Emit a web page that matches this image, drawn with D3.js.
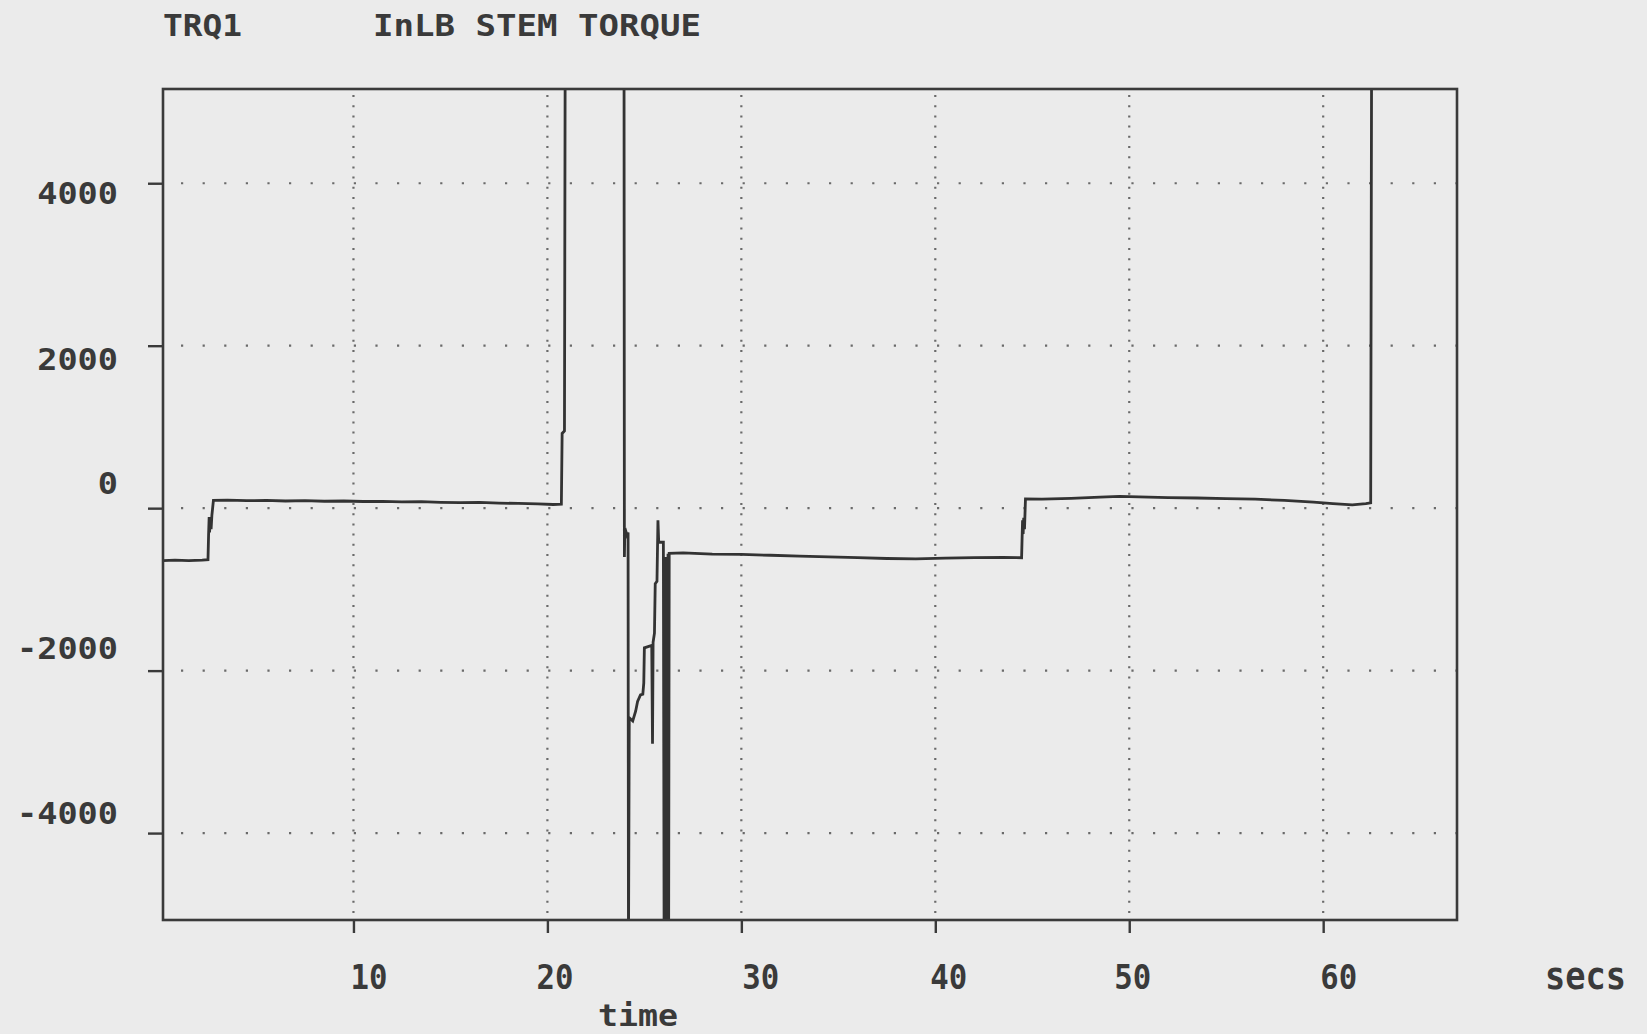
<!DOCTYPE html>
<html><head><meta charset="utf-8">
<script src="https://cdn.jsdelivr.net/npm/d3@7"></script>
<style>
body{margin:0;background:#ebebeb;}
svg{display:block;}
text{font-family:"DejaVu Sans Mono",monospace;font-weight:bold;fill:#3a3a3a;}
</style>
</head><body>
<svg id="chart" width="1647" height="1034"></svg>
<script>
// ---- data ----
const title1 = "TRQ1";
const title2 = "InLB STEM TORQUE";
const xName = "time";
const xUnit = "secs";
const xTicks = [10, 20, 30, 40, 50, 60];
const xTickLabels = ["10", "20", "30", "40", "50", "60"];
const yTicks = [4000, 2000, 0, -2000, -4000];
const yTickLabels = ["4000", "2000", "0", "-2000", "-4000"];
const xDomain = [0.18, 66.9];
const yDomain = [-5070, 5160];
const timeSecs = [
  0.18, 0.8, 1.5, 2.2, 2.5,
  2.53, 2.56, 2.58, 2.62, 2.66, 2.7, 2.78,
  3.5, 4.5, 5.5, 6.5, 7.5, 8.5, 9.5, 10.5, 11.5, 12.5, 13.5, 14.5, 15.5, 16.5, 17.5, 18.5, 19.5, 20.3, 20.72,
  20.76, 20.88, 20.92,
  23.95, 23.97, 23.99, 24.04, 24.1, 24.16,
  24.18, 24.22, 24.4, 24.55, 24.65, 24.8, 24.92, 24.97, 25.0, 25.38, 25.42, 25.45, 25.52, 25.56, 25.65, 25.7, 25.74, 25.98,
  26.02, 26.05, 26.08, 26.1, 26.12, 26.14, 26.16, 26.18, 26.2, 26.22, 26.25, 26.28,
  27, 28.5, 30, 31.5, 33, 34.5, 36, 37.5, 39, 40.5, 42, 43.5, 44.45,
  44.5, 44.53, 44.56, 44.6, 44.65,
  45.5, 47, 48.5, 49.5, 50.5, 52, 53.5, 55, 56.5, 58, 59.5, 60.5, 61.5, 62.2, 62.45,
  62.5
];
const torque = [
  -645, -640, -645, -640, -635,
  -330, -110, -300, -120, -260, -90, 95,
  100, 92, 95, 88, 92, 85, 88, 82, 84, 78, 80, 72, 68, 70, 62, 58, 52, 45, 48,
  920, 950, 6000,
  6000, -600, -300, -280, -330, -300,
  -5500, -2580, -2620, -2500, -2380, -2300, -2290, -2150, -1720, -1690, -2900, -1650, -1540, -930, -900, -150, -420, -420,
  -5500, -700, -1500, -5500, -600, -1400, -800, -5500, -1200, -560, -5500, -555,
  -550, -565, -570, -580, -590, -600, -610, -620, -625, -615, -610, -605, -610,
  -150, -320, -120, -260, 115,
  112, 120, 135, 145, 140, 130, 125, 118, 110, 95, 75, 55, 40, 55, 65,
  6000
];

// ---- styling / layout (not data) ----
const plot = {left: 163, right: 1457, top: 89, bottom: 920};
const yLabelDy = [20, 23.5, -15, -12.5, -10];
const xLabelDx = [15, 7, 19, 13, 3, 15];
const ink = "#3a3a3a";

const svg = d3.select("#chart");
svg.append("rect").attr("width", 1647).attr("height", 1034).attr("fill", "#ebebeb");

const x = d3.scaleLinear().domain(xDomain).range([plot.left, plot.right]);
const y = d3.scaleLinear().domain(yDomain).range([plot.bottom, plot.top]);

// grid
const grid = svg.append("g").attr("stroke", "#6a6a6a").attr("stroke-width", 2.2);
grid.selectAll("line.h").data(yTicks).join("line")
  .attr("x1", plot.left + 18).attr("x2", plot.right)
  .attr("y1", d => y(d)).attr("y2", d => y(d))
  .attr("stroke-dasharray", "2.2,19.4");
grid.selectAll("line.v").data(xTicks).join("line")
  .attr("x1", d => x(d)).attr("x2", d => x(d))
  .attr("y1", plot.top + 6).attr("y2", plot.bottom)
  .attr("stroke-dasharray", "2,8.2");

// axes (ticks outside frame)
const yAxis = svg.append("g").attr("transform", `translate(${plot.left},0)`)
  .call(d3.axisLeft(y).tickValues(yTicks).tickSize(15).tickFormat((d, i) => yTickLabels[i]));
yAxis.select(".domain").remove();
yAxis.selectAll(".tick line").attr("stroke", ink).attr("stroke-width", 2.4);
yAxis.selectAll(".tick text")
  .attr("x", -45).attr("dy", (d, i) => yLabelDy[i])
  .attr("font-size", 30).attr("fill", ink)
  .attr("textLength", (d, i) => yTickLabels[i].length * 20.2)
  .attr("lengthAdjust", "spacingAndGlyphs");

const xAxis = svg.append("g").attr("transform", `translate(0,${plot.bottom})`)
  .call(d3.axisBottom(x).tickValues(xTicks).tickSize(13).tickFormat((d, i) => xTickLabels[i]));
xAxis.select(".domain").remove();
xAxis.selectAll(".tick line").attr("stroke", ink).attr("stroke-width", 2.4);
xAxis.selectAll(".tick text")
  .attr("y", 0).attr("dy", 69).attr("x", (d, i) => xLabelDx[i])
  .attr("text-anchor", "middle")
  .attr("font-size", 34).attr("fill", ink)
  .attr("textLength", 37).attr("lengthAdjust", "spacingAndGlyphs");

// trace
svg.append("clipPath").attr("id", "clip").append("rect")
  .attr("x", plot.left).attr("y", plot.top)
  .attr("width", plot.right - plot.left).attr("height", plot.bottom - plot.top);
const pts = timeSecs.map((t, i) => [t, torque[i]]);
svg.append("path").datum(pts)
  .attr("clip-path", "url(#clip)")
  .attr("fill", "none").attr("stroke", "#333").attr("stroke-width", 2.8)
  .attr("stroke-linejoin", "miter")
  .attr("d", d3.line().x(d => x(d[0])).y(d => y(d[1])));

// frame
svg.append("rect")
  .attr("x", plot.left).attr("y", plot.top)
  .attr("width", plot.right - plot.left).attr("height", plot.bottom - plot.top)
  .attr("fill", "none").attr("stroke", ink).attr("stroke-width", 2.6);

// titles and axis names
svg.append("text").attr("x", 163).attr("y", 36).attr("font-size", 30)
  .attr("textLength", 79).attr("lengthAdjust", "spacingAndGlyphs").text(title1);
svg.append("text").attr("x", 373).attr("y", 36).attr("font-size", 30)
  .attr("textLength", 328).attr("lengthAdjust", "spacingAndGlyphs").text(title2);
svg.append("text").attr("x", 1545).attr("y", 989).attr("font-size", 38)
  .attr("textLength", 81).attr("lengthAdjust", "spacingAndGlyphs").text(xUnit);
svg.append("text").attr("x", 598).attr("y", 1026).attr("font-size", 30)
  .attr("textLength", 80).attr("lengthAdjust", "spacingAndGlyphs").text(xName);
</script>
</body></html>
